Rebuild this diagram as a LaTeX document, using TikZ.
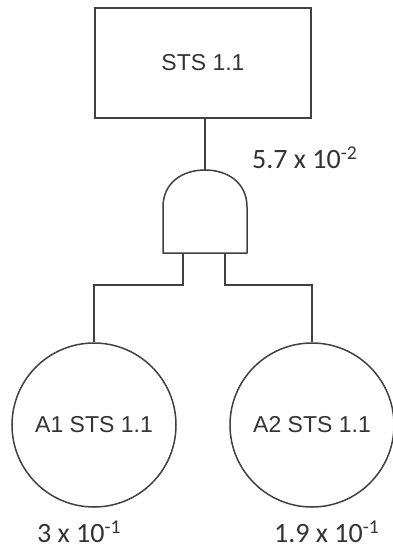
\documentclass[tikz,border=0pt]{standalone}
\usepackage{fontspec}
\setmainfont{Liberation Sans}
\newfontfamily\numfont{Carlito}
\definecolor{ln}{HTML}{404040}
\begin{document}
\begin{tikzpicture}[x=1pt,y=-1pt,
  lin/.style={draw=ln,line width=1.5pt},
  lbl/.style={font=\fontsize{23}{27}\selectfont,text=ln!80!black},
  prob/.style={font=\numfont\fontsize{28}{30}\selectfont,text=ln!80!black,inner sep=0pt},
  event/.style={lin,circle,minimum size=164pt,inner sep=0pt}]
\useasboundingbox (0,0) rectangle (393,552);
\node[lin,lbl,minimum width=216pt,minimum height=110pt,inner sep=0pt] (top) at (203,63) {STS 1.1};
\coordinate (gtop) at (205,170);
\coordinate (gl) at (183,253);
\coordinate (gr) at (225,253);
\draw[lin,line join=round] (163,253) -- (163,207) .. controls (163,183) and (182,170) .. (gtop)
  .. controls (228,170) and (247,183) .. (247,207) -- (247,253) -- cycle;
\node[event,lbl] (a1) at (94,425) {A1 STS 1.1};
\node[event,lbl] (a2) at (312,425) {A2 STS 1.1};
\draw[lin] (top.south -| gtop) -- (gtop);
\draw[lin] (gl) -- (gl |- 0,285) -| (a1.north);
\draw[lin] (gr) -- (gr |- 0,285) -| (a2.north);
\node[prob,anchor=west] (pg) at (252,158) {5.7 x 10\textsuperscript{-2}};
\node[prob,anchor=west] (p1) at (37,532) {3 x 10\textsuperscript{-1}};
\node[prob,anchor=west] (p2) at (274,532) {1.9 x 10\textsuperscript{-1}};
\end{tikzpicture}
\end{document}
